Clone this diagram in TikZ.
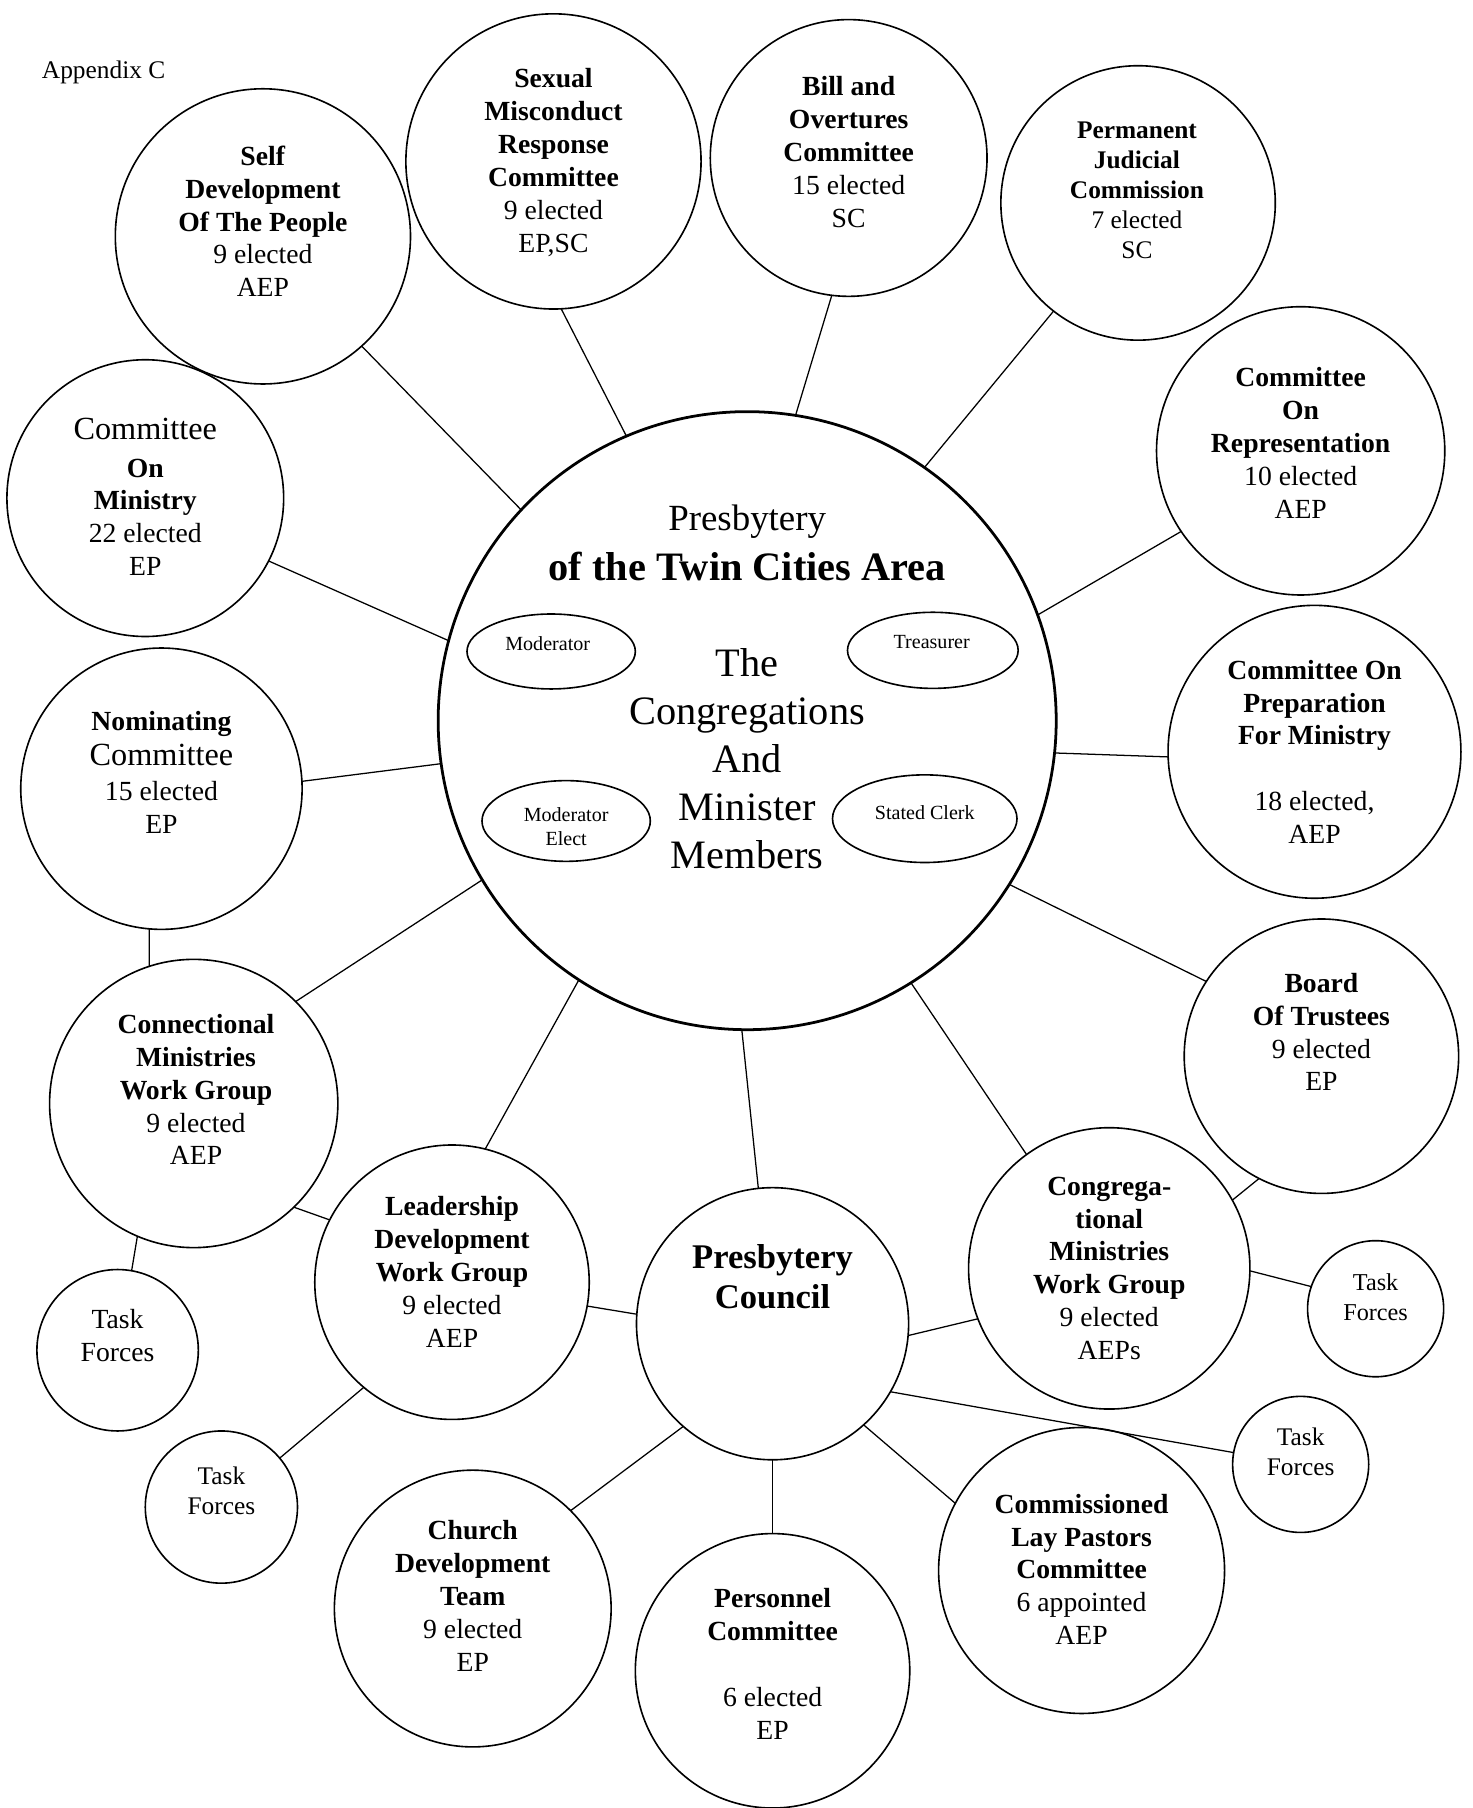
\documentclass[tikz,border=0pt]{standalone}
\usepackage{fontspec}
\setmainfont{Liberation Serif}
\usetikzlibrary{shapes.geometric}
\begin{document}
\begin{tikzpicture}[x=0.5pt,y=-0.5pt,
 bub/.style={circle,draw,line width=0.7pt,inner sep=0pt,outer sep=0pt},
 ell/.style={ellipse,draw,line width=0.7pt,inner sep=0pt,outer sep=0pt},
 txt/.style={align=center,inner sep=0pt,font=\fontsize{12}{14.25}\selectfont},
 small/.style={align=center,inner sep=0pt,font=\fontsize{8.7}{10.5}\selectfont},
 link/.style={line width=0.55pt}]
\useasboundingbox (0,0) rectangle (1277,1568);

% circles
\node[bub,minimum size=128pt] (sd) at (228,205) {};
\node[bub,minimum size=128pt] (sm) at (480,140) {};
\node[bub,minimum size=120pt] (bo) at (736,137) {};
\node[bub,minimum size=119pt] (pj) at (987,176) {};
\node[bub,minimum size=125pt] (cr) at (1128,391) {};
\node[bub,minimum size=120pt] (cm) at (126,432) {};
\node[bub,line width=1.2pt,minimum size=268pt] (c) at (648,625) {};
\node[bub,minimum size=127pt] (cp) at (1140,652) {};
\node[bub,minimum size=122pt] (nc) at (140,684) {};
\node[bub,minimum size=119pt] (bt) at (1146,916) {};
\node[bub,minimum size=125pt] (cw) at (168,957) {};
\node[bub,minimum size=122pt] (cg) at (962,1100) {};
\node[bub,minimum size=119pt] (ld) at (392,1112) {};
\node[bub,minimum size=118pt] (pc) at (670,1148) {};
\node[bub,minimum size=70pt] (tf1) at (102,1171) {};
\node[bub,minimum size=59pt] (tf2) at (1193,1135) {};
\node[bub,minimum size=66pt] (tf3) at (192,1307) {};
\node[bub,minimum size=59pt] (tf4) at (1128,1270) {};
\node[bub,minimum size=120pt] (cd) at (410,1395) {};
\node[bub,minimum size=119pt] (pe) at (670,1449) {};
\node[bub,minimum size=124pt] (cl) at (938,1362) {};

% ellipses
\node[ell,minimum width=73pt,minimum height=32.5pt] (mo) at (478,565) {};
\node[ell,minimum width=74pt,minimum height=33pt] (tr) at (809,564) {};
\node[ell,minimum width=73pt,minimum height=35pt] (me) at (491,712) {};
\node[ell,minimum width=80pt,minimum height=38pt] (sc) at (802,710) {};

% connectors
\draw[link] (sd.-48.8) -- (c.137.2);
\draw[link] (sm.-87) -- (c.113.3);
\draw[link] (bo.-97.4) -- (c.81.4);
\draw[link] (pj.-128.3) -- (c.55.7);
\draw[link] (cr.-146.4) -- (c.20.3);
\draw[link] (cm.-27.2) -- (c.165.3);
\draw[link] (cp.182.7) -- (c.-6.9);
\draw[link] (nc.3.3) -- (c.188.4);
\draw[link] (bt.147.7) -- (c.-32.8);
\draw[link] (cw.45.6) -- (c.-149.9);
\draw[link] (nc.-95.8) -- (cw.108.6);
\draw[link] (ld.76.3) -- (c.-123.5);
\draw[link] (pc.96) -- (c.-91.3);
\draw[link] (cg.126.9) -- (c.-58.1);
\draw[link] (bt.-117.2) -- (cg.29.1);
\draw[link] (cw.-113.9) -- (tf1.80.8);
\draw[link] (cw.-46.9) -- (ld.153.4);
\draw[link] (ld.-10.8) -- (pc.176.1);
\draw[link] (ld.-130.7) -- (tf3.40.1);
\draw[link] (cg.201.9) -- (pc.-5.5);
\draw[link] (cg.-1.4) -- (tf2.161);
\draw[link] (pc.-30.9) -- (tf4.170.2);
\draw[link] (pc.-131.9) -- (cd.45.9);
\draw[link] (pc.-90) -- (pe.90);
\draw[link] (pc.-48.3) -- (cl.152.6);

% texts
\node[anchor=west,inner sep=0pt,font=\fontsize{11}{13}\selectfont] (app) at (36,63) {Appendix C};
\node[txt] (sd-t) at (228,192) {\textbf{Self}\\\textbf{Development}\\\textbf{Of The People}\\9 elected\\AEP};
\node[txt] (sm-t) at (480,141) {\textbf{Sexual}\\\textbf{Misconduct}\\\textbf{Response}\\\textbf{Committee}\\9 elected\\EP,SC};
\node[txt] (bo-t) at (736,132) {\textbf{Bill and}\\\textbf{Overtures}\\\textbf{Committee}\\15 elected\\SC};
\node[txt,font=\fontsize{11}{13}\selectfont] (pj-t) at (986,165) {\textbf{Permanent}\\\textbf{Judicial}\\\textbf{Commission}\\7 elected\\SC};
\node[txt] (cr-t) at (1128,384) {\textbf{Committee}\\\textbf{On}\\\textbf{Representation}\\10 elected\\AEP};
\node[txt] (cm-t) at (126,431) {{\fontsize{14}{16}\selectfont Committee}\\[2pt]\textbf{On}\\\textbf{Ministry}\\22 elected\\EP};
\node[txt] (cp-t) at (1140,652) {\textbf{Committee On}\\\textbf{Preparation}\\\textbf{For Ministry}\\[14.25pt]18 elected,\\AEP};
\node[txt] (nc-t) at (140,670) {\textbf{Nominating}\\[1pt]{\fontsize{14}{16}\selectfont Committee}\\[1pt]15 elected\\EP};
\node[txt] (bt-t) at (1146,895) {\textbf{Board}\\\textbf{Of Trustees}\\9 elected\\EP};
\node[txt] (cw-t) at (170,945) {\textbf{Connectional}\\\textbf{Ministries}\\\textbf{Work Group}\\9 elected\\AEP};
\node[txt] (cg-t) at (962,1100) {\textbf{Congrega-}\\\textbf{tional}\\\textbf{Ministries}\\\textbf{Work Group}\\9 elected\\AEPs};
\node[txt] (ld-t) at (392,1103) {\textbf{Leadership}\\\textbf{Development}\\\textbf{Work Group}\\9 elected\\AEP};
\node[txt,font=\fontsize{15}{17.5}\bfseries\selectfont] (pc-t) at (670,1107) {Presbytery\\Council};
\node[txt] (cd-t) at (410,1384) {\textbf{Church}\\\textbf{Development}\\\textbf{Team}\\9 elected\\EP};
\node[txt] (pe-t) at (670,1443) {\textbf{Personnel}\\\textbf{Committee}\\[14.25pt]6 elected\\EP};
\node[txt] (cl-t) at (938,1361) {\textbf{Commissioned}\\\textbf{Lay Pastors}\\\textbf{Committee}\\6 appointed\\AEP};
\node[txt] (tf1-t) at (102,1158) {Task\\Forces};
\node[txt,font=\fontsize{10.5}{13}\selectfont] (tf2-t) at (1193,1125) {Task\\Forces};
\node[txt,font=\fontsize{11}{13}\selectfont] (tf3-t) at (192,1293) {Task\\Forces};
\node[txt,font=\fontsize{11}{13}\selectfont] (tf4-t) at (1128,1259) {Task\\Forces};

% central texts
\node[txt,font=\fontsize{16}{21.5}\selectfont] (c-t1) at (648,471) {Presbytery\\{\fontsize{17.5}{21.5}\bfseries\selectfont of the Twin Cities Area}};
\node[txt,font=\fontsize{17.5}{20.9}\selectfont] (c-t2) at (648,658) {The\\Congregations\\And\\Minister\\Members};
\node[small] (mo-t) at (475,558) {Moderator};
\node[small] (tr-t) at (808,557) {Treasurer};
\node[small] (me-t) at (491,717) {Moderator\\Elect};
\node[small] (sc-t) at (802,705) {Stated Clerk};
\end{tikzpicture}
\end{document}
